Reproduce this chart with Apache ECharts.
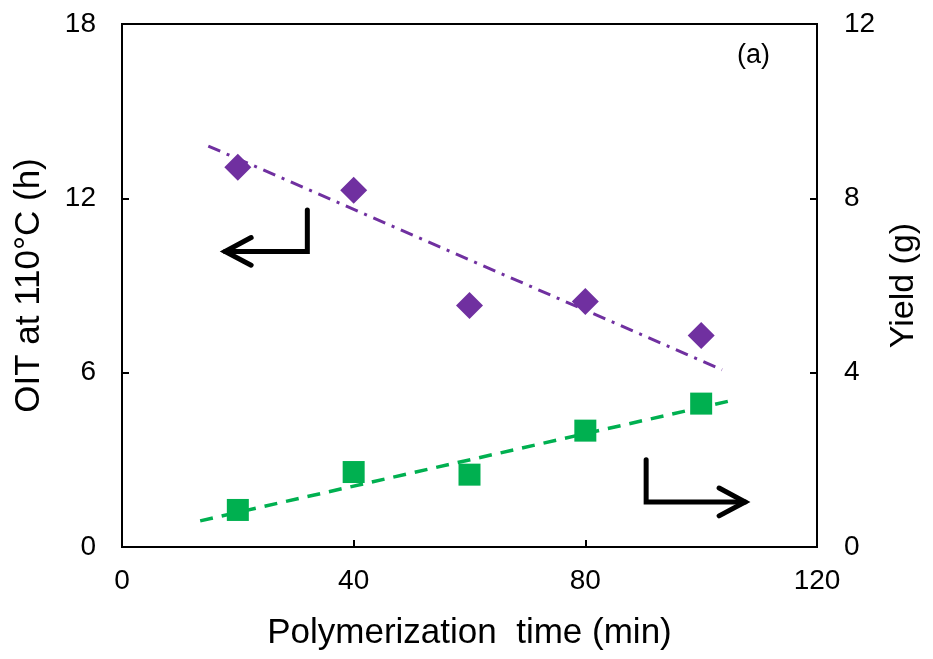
<!DOCTYPE html>
<html>
<head>
<meta charset="utf-8">
<script src="https://cdn.jsdelivr.net/npm/echarts@6/dist/echarts.min.js"></script>
<style>
html,body{margin:0;padding:0;background:#fff;}
#c{width:933px;height:659px;}
</style>
</head>
<body>
<div id="c"></div>
<script>
// Data
const timeMin = [20, 40, 60, 80, 100];
const oitHours = [13.07, 12.28, 8.31, 8.45, 7.28];
const yieldGrams = [0.85, 1.72, 1.66, 2.67, 3.29];
// Trend line end points
const oitTrendX = [14.9, 103.6];
const oitTrendY = [13.8, 6.1];
const yieldTrendX = [13.5, 105.9];
const yieldTrendY = [0.6, 3.38];
// Annotation arrows (data coordinates of left axis)
const leftArrowBody = [[32, 11.6], [32, 10.17], [17.8, 10.17]];
const leftArrowHead = [[22.3, 10.65], [17.8, 10.17], [22.3, 9.7]];
const rightArrowBody = [[90.5, 3.0], [90.5, 1.55], [107.6, 1.55]];
const rightArrowHead = [[103.1, 2.03], [107.6, 1.55], [103.1, 1.07]];
const xTicks = {min: 0, max: 120, interval: 40};
const yLeftTicks = {min: 0, max: 18, interval: 6};
const yRightTicks = {min: 0, max: 12, interval: 4};

const FONT = "'Liberation Sans', Arial, sans-serif";
const chart = echarts.init(document.getElementById('c'), null, {renderer: 'canvas'});

function pairs(xs, ys){ return xs.map((x,i)=>[x, ys[i]]); }
function arrowSeries(data){
  return {type:'line', data:data, xAxisIndex:0, yAxisIndex:0, symbol:'none', silent:true,
    lineStyle:{color:'#000', width:5, cap:'round', join:'miter'}, z:5, animation:false};
}

chart.setOption({
  animation:false,
  textStyle:{fontFamily:FONT},
  grid:{left:122, right:116, top:24, bottom:112, outerBoundsMode:'none', containLabel:false,
    show:true, borderColor:'#000', borderWidth:2, backgroundColor:'transparent'},
  title:{text:'(a)', left:732, top:37, textStyle:{fontFamily:FONT, fontSize:27, fontWeight:'normal', color:'#000'}},
  xAxis:{type:'value', min:xTicks.min, max:xTicks.max, interval:xTicks.interval,
    name:'Polymerization  time (min)', nameLocation:'middle', nameGap:69,
    nameTextStyle:{fontFamily:FONT, fontSize:35, color:'#000'},
    axisLine:{show:true, lineStyle:{color:'#000', width:2}},
    axisTick:{show:true, inside:true, length:7, lineStyle:{color:'#000', width:2}},
    axisLabel:{fontFamily:FONT, fontSize:28, color:'#000', margin:20},
    splitLine:{show:false}},
  yAxis:[
    {type:'value', position:'left', min:yLeftTicks.min, max:yLeftTicks.max, interval:yLeftTicks.interval,
      name:'OIT at 110°C (h)', nameLocation:'middle', nameGap:75, nameRotate:90,
      nameTextStyle:{fontFamily:FONT, fontSize:35, color:'#000'},
      axisLine:{show:true, lineStyle:{color:'#000', width:2}},
      axisTick:{show:true, inside:true, length:7, lineStyle:{color:'#000', width:2}},
      axisLabel:{fontFamily:FONT, fontSize:28, color:'#000', margin:26},
      splitLine:{show:false}},
    {type:'value', position:'right', min:yRightTicks.min, max:yRightTicks.max, interval:yRightTicks.interval,
      name:'Yield (g)', nameLocation:'middle', nameGap:70, nameRotate:90,
      nameTextStyle:{fontFamily:FONT, fontSize:34, color:'#000'},
      axisLine:{show:true, lineStyle:{color:'#000', width:2}},
      axisTick:{show:true, inside:true, length:7, lineStyle:{color:'#000', width:2}},
      axisLabel:{fontFamily:FONT, fontSize:28, color:'#000', margin:27},
      splitLine:{show:false}}
  ],
  series:[
    {type:'line', data:pairs(oitTrendX, oitTrendY), yAxisIndex:0, symbol:'none',
      lineStyle:{color:'#7030A0', width:3, type:[13,7,3,7]}, z:2},
    {type:'line', data:pairs(yieldTrendX, yieldTrendY), yAxisIndex:1, symbol:'none',
      lineStyle:{color:'#00B050', width:3.5, type:[13,9]}, z:2},
    {type:'scatter', data:pairs(timeMin, oitHours), yAxisIndex:0, symbol:'diamond', symbolSize:27,
      itemStyle:{color:'#7030A0', opacity:1}, z:3},
    {type:'scatter', data:pairs(timeMin, yieldGrams), yAxisIndex:1, symbol:'rect', symbolSize:22,
      itemStyle:{color:'#00B050', opacity:1}, z:3},
    arrowSeries(leftArrowBody),
    arrowSeries(leftArrowHead),
    arrowSeries(rightArrowBody),
    arrowSeries(rightArrowHead)
  ]
});
</script>
</body>
</html>
